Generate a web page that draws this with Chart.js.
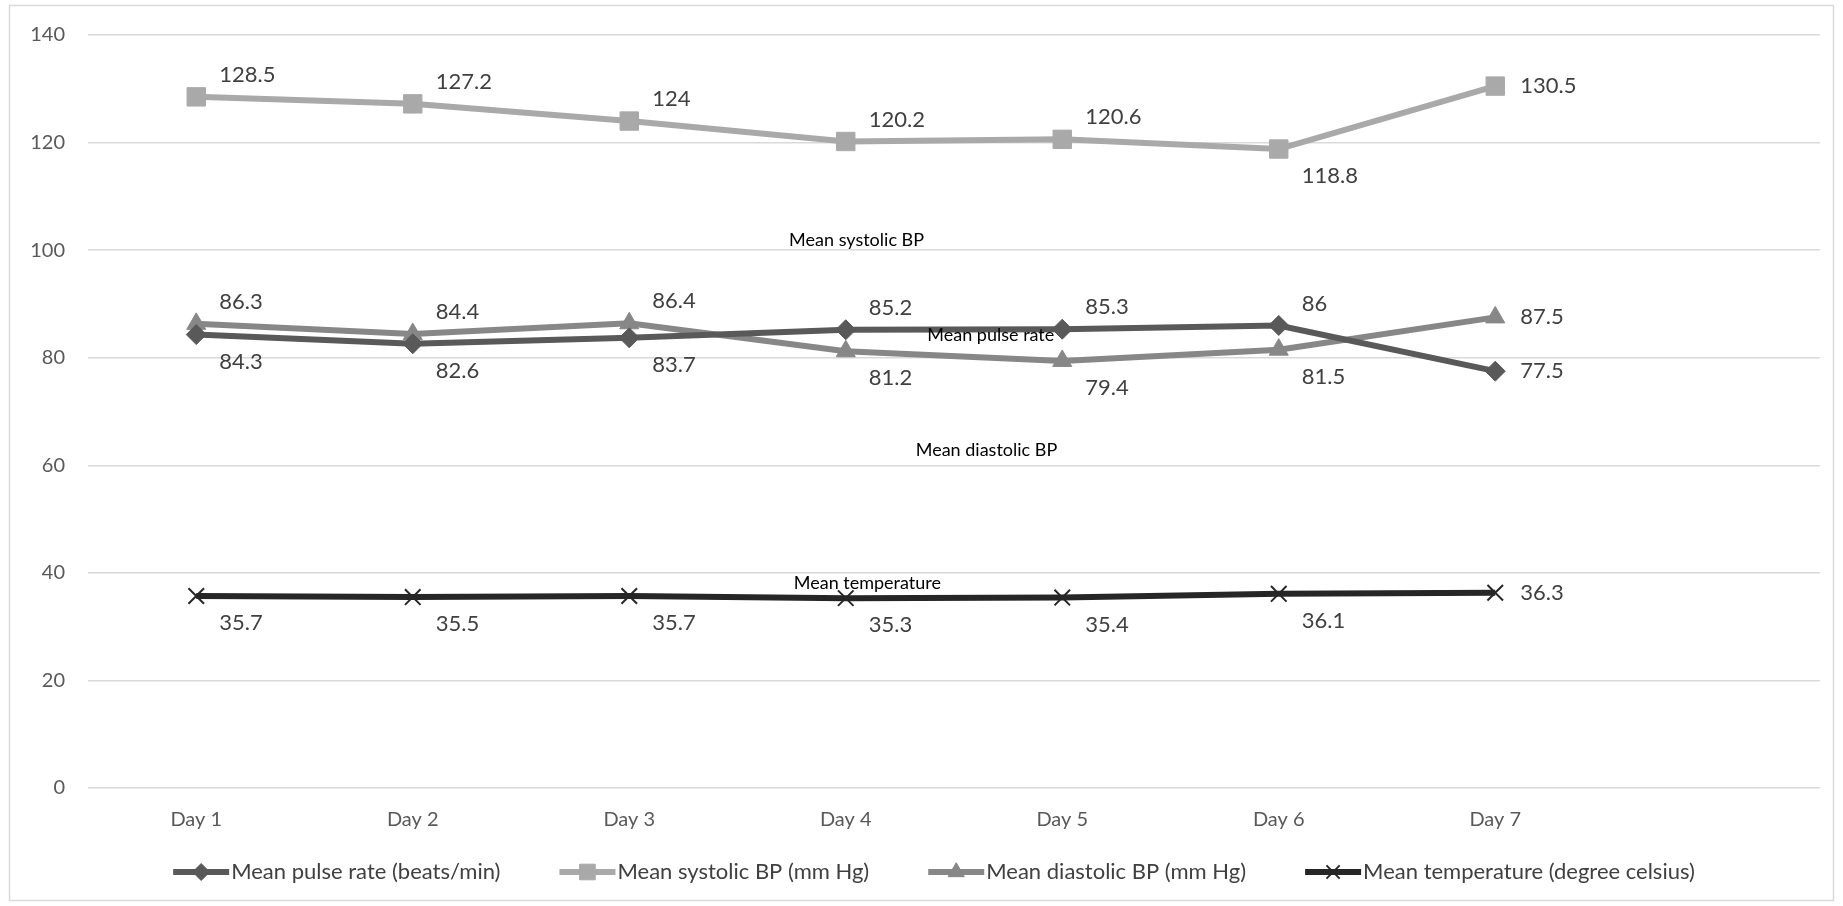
<!DOCTYPE html>
<html>
<head>
<meta charset="utf-8">
<script src="https://cdn.jsdelivr.net/npm/chart.js@4.4.1/dist/chart.umd.min.js"></script>
<style>
  html, body { margin: 0; padding: 0; background: #ffffff; }
  #wrap { width: 1843px; height: 906px; position: relative; }
</style>
</head>
<body>
<div id="wrap"><canvas id="c" width="1843" height="906"></canvas></div>
<script>
// ---- data ----
const categories = ['Day 1', 'Day 2', 'Day 3', 'Day 4', 'Day 5', 'Day 6', 'Day 7', ''];
const pulseRate = [84.3, 82.6, 83.7, 85.2, 85.3, 86, 77.5];
const systolicBP = [128.5, 127.2, 124, 120.2, 120.6, 118.8, 130.5];
const diastolicBP = [86.3, 84.4, 86.4, 81.2, 79.4, 81.5, 87.5];
const temperature = [35.7, 35.5, 35.7, 35.3, 35.4, 36.1, 36.3];
const seriesNames = ['Mean pulse rate (beats/min)', 'Mean systolic BP (mm Hg)', 'Mean diastolic BP (mm Hg)', 'Mean temperature (degree celsius)'];
const yTicks = [0, 20, 40, 60, 80, 100, 120, 140];
const annotationTexts = ['Mean systolic BP', 'Mean pulse rate', 'Mean diastolic BP', 'Mean temperature'];
const annotationAt = [[3.05, 101.9], [3.67, 84.2], [3.65, 62.8], [3.10, 38.1]];

// ---- styling (label placement per point) ----
const labelPlacement = [
  ['below', 'below', 'below', 'above', 'above', 'above', 'right'],
  ['above', 'above', 'above', 'above', 'above', 'below', 'right'],
  ['above', 'above', 'above', 'below', 'below', 'below', 'right'],
  ['below', 'below', 'below', 'below', 'below', 'below', 'right']
];
const FONT = 'Lato, "Open Sans", sans-serif';
const colors = ['#595959', '#A9A9A9', '#878787', '#262626'];
const pointStyles = ['rectRot', 'rect', 'triangle', 'crossRot'];
const pointRadii = [10, 13, 11, 11];
const pointBorders = [1, 1, 1, 2];

const allSeries = [pulseRate, systolicBP, diastolicBP, temperature];
const datasets = allSeries.map((d, i) => ({
  label: seriesNames[i],
  data: d,
  borderColor: colors[i],
  backgroundColor: colors[i],
  borderWidth: 6,
  pointStyle: pointStyles[i],
  pointRadius: pointRadii[i],
  pointHoverRadius: pointRadii[i],
  pointBorderColor: colors[i],
  pointBackgroundColor: colors[i],
  pointBorderWidth: pointBorders[i],
  tension: 0,
  fill: false
}));

const frameAndLabels = {
  id: 'frameAndLabels',
  beforeDraw(chart) {
    const ctx = chart.ctx;
    ctx.save();
    ctx.strokeStyle = '#D9D9D9';
    ctx.lineWidth = 1.5;
    ctx.strokeRect(9.5, 5.5, 1824, 895);
    ctx.restore();
  },
  afterDatasetsDraw(chart) {
    const ctx = chart.ctx;
    const xs = chart.scales.x, ys = chart.scales.y;
    ctx.save();
    // data labels
    ctx.font = '22px ' + FONT;
    ctx.fillStyle = '#404040';
    ctx.textAlign = 'left';
    ctx.textBaseline = 'middle';
    chart.data.datasets.forEach((ds, di) => {
      const meta = chart.getDatasetMeta(di);
      meta.data.forEach((pt, j) => {
        const place = labelPlacement[di][j];
        let dx = 23, dy = 0;
        if (place === 'above') dy = -22;
        else if (place === 'below') dy = 27;
        else dx = 25;
        ctx.fillText(String(ds.data[j]), pt.x + dx, pt.y + dy);
      });
    });
    // annotations
    ctx.font = '18px ' + FONT;
    ctx.fillStyle = '#000000';
    ctx.textAlign = 'center';
    annotationTexts.forEach((t, i) => {
      ctx.fillText(t, xs.getPixelForValue(annotationAt[i][0]), ys.getPixelForValue(annotationAt[i][1]));
    });
    ctx.restore();
  },
  afterDraw(chart) {
    // legend with line + marker
    const ctx = chart.ctx;
    ctx.save();
    ctx.font = '22px ' + FONT;
    const lineLen = 56, gapText = 2, gapItem = 59;
    const widths = seriesNames.map(n => lineLen + gapText + ctx.measureText(n).width);
    const total = widths.reduce((a, b) => a + b, 0) + gapItem * (seriesNames.length - 1);
    let x = 934 - total / 2;
    const y = 872;
    seriesNames.forEach((n, i) => {
      ctx.strokeStyle = colors[i];
      ctx.lineWidth = 6;
      ctx.beginPath();
      ctx.moveTo(x, y);
      ctx.lineTo(x + lineLen, y);
      ctx.stroke();
      ctx.fillStyle = colors[i];
      ctx.strokeStyle = colors[i];
      ctx.lineWidth = pointBorders[i];
      Chart.helpers.drawPoint(ctx, {
        pointStyle: pointStyles[i],
        radius: pointRadii[i] * 0.85,
        borderWidth: pointBorders[i],
        rotation: 0
      }, x + lineLen / 2, y);
      ctx.fillStyle = '#404040';
      ctx.textAlign = 'left';
      ctx.textBaseline = 'middle';
      ctx.fillText(n, x + lineLen + gapText, y);
      x += widths[i] + gapItem;
    });
    ctx.restore();
  }
};

new Chart(document.getElementById('c'), {
  type: 'line',
  data: { labels: categories, datasets: datasets },
  options: {
    responsive: false,
    animation: false,
    devicePixelRatio: 1,
    layout: { padding: { left: 0, right: 23, top: 35, bottom: 70 } },
    plugins: { legend: { display: false }, tooltip: { enabled: false } },
    scales: {
      x: {
        type: 'category',
        offset: true,
        grid: { display: false, drawTicks: false },
        border: { display: false },
        ticks: { color: '#595959', font: { family: FONT, size: 20 }, padding: 20, maxRotation: 0, autoSkip: false },
        afterFit(s) { s.height = 48; }
      },
      y: {
        min: 0, max: 140,
        afterBuildTicks(s) { s.ticks = yTicks.map(v => ({ value: v })); },
        grid: { color: '#D9D9D9', lineWidth: 1.5, drawTicks: false },
        border: { display: false },
        ticks: { color: '#595959', font: { family: FONT, size: 20 }, padding: 23 },
        afterFit(s) { s.width = 88; }
      }
    }
  },
  plugins: [frameAndLabels]
});
</script>
</body>
</html>
